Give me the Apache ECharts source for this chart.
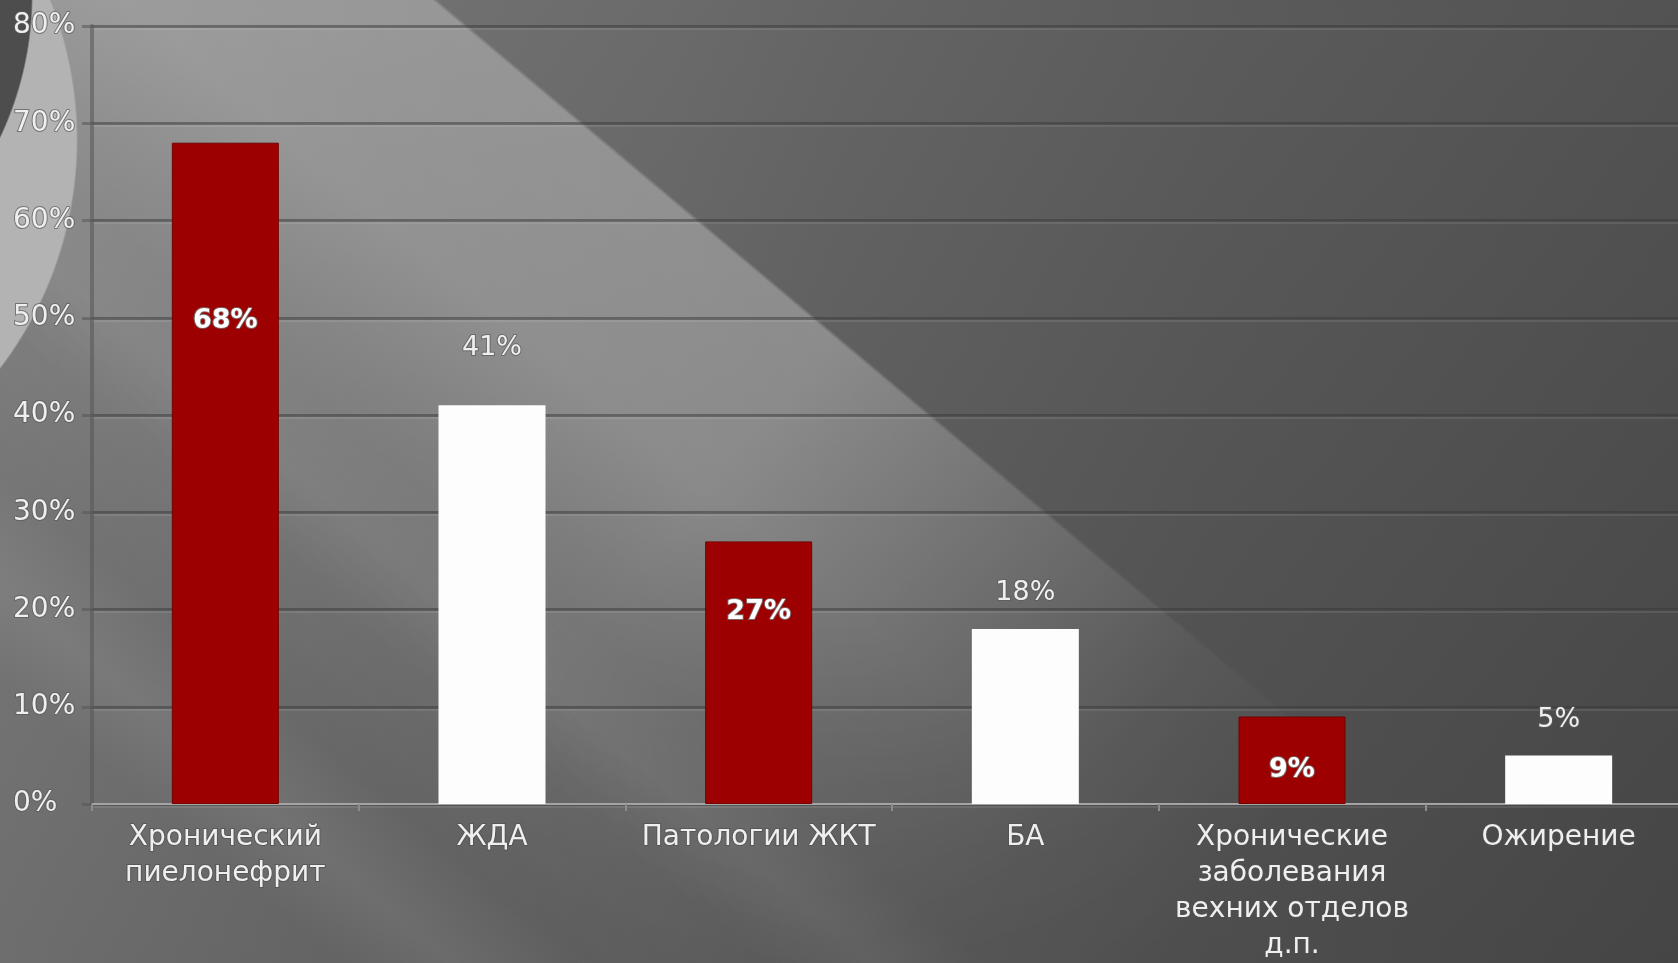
<!DOCTYPE html>
<html>
<head>
<meta charset="utf-8">
<script src="https://cdn.jsdelivr.net/npm/echarts@6/dist/echarts.min.js"></script>
<style>
  html, body { margin: 0; padding: 0; overflow: hidden; }
  #wrap { position: relative; width: 1678px; height: 963px; overflow: hidden; }
  #bg {
    position: absolute; left: 0; top: 0; width: 1678px; height: 963px;
    background:
      linear-gradient(40deg,
        rgba(255,255,255,0) 12%, rgba(255,255,255,0.07) 16%, rgba(255,255,255,0) 21%,
        rgba(255,255,255,0) 27%, rgba(255,255,255,0.05) 31%, rgba(255,255,255,0) 35%),
      linear-gradient(to bottom, rgba(255,255,255,0.03), rgba(0,0,0,0.10)),
      linear-gradient(to right, #7a7a7a 0%, #6c6c6c 25%, #666666 40%, #606060 50%, #565656 72%, #4d4d4d 100%);
  }
  #glow {
    position: absolute; left: 0; top: 0; width: 1678px; height: 963px;
    background: linear-gradient(40deg,
      rgba(255,255,255,0) 20%, rgba(255,255,255,0.05) 28%, rgba(255,255,255,0.16) 38%,
      rgba(255,255,255,0.26) 45%, rgba(255,255,255,0.28) 55.9%, rgba(255,255,255,0) 56.1%);
    -webkit-mask-image: linear-gradient(130deg, #000 0%, #000 45%, rgba(0,0,0,0.55) 58%, rgba(0,0,0,0.15) 70%, rgba(0,0,0,0) 80%);
    mask-image: linear-gradient(130deg, #000 0%, #000 45%, rgba(0,0,0,0.55) 58%, rgba(0,0,0,0.15) 70%, rgba(0,0,0,0) 80%);
  }
  #deco {
    position: absolute; left: 0; top: 0; width: 1678px; height: 963px;
    background:
      radial-gradient(circle 333px at -300px -5px, #4d4d4d 99.5%, rgba(77,77,77,0) 100%),
      radial-gradient(circle 378px at -300px 140px, #b3b3b3 99.5%, rgba(179,179,179,0) 100%);
  }
  #chart { position: absolute; left: 0; top: 0; width: 1678px; height: 963px; }
</style>
</head>
<body>
<div id="wrap">
  <div id="bg"></div>
  <div id="glow"></div>
  <div id="deco"></div>
  <div id="chart"></div>
</div>
<script>
// ---- data ----
const categories = [
  'Хронический\nпиелонефрит',
  'ЖДА',
  'Патологии ЖКТ',
  'БА',
  'Хронические\nзаболевания\nвехних отделов\nд.п.',
  'Ожирение'
];
const values = [68, 41, 27, 18, 9, 5];
const yTicks = [0, 10, 20, 30, 40, 50, 60, 70, 80];

// ---- styles ----
const RED = '#9c0000';
const WHITE = '#fdfdfd';
const FONT = 'DejaVu Sans';

const seriesData = values.map((v, i) => {
  const isRed = i % 2 === 0;
  if (isRed) {
    return {
      value: v,
      itemStyle: { color: RED, borderColor: '#760000', borderWidth: 1 },
      label: {
        show: true,
        position: v > 20 ? ['50%', '27%'] : ['50%', '61%'],
        align: 'center',
        verticalAlign: 'middle',
        formatter: '{c}%',
        color: '#ffffff',
        fontFamily: FONT,
        fontWeight: 'bold',
        fontSize: 27,
        textBorderColor: 'rgba(120,110,110,0.9)',
        textBorderWidth: 2
      }
    };
  }
  return {
    value: v,
    itemStyle: { color: WHITE },
    label: {
      show: true,
      position: 'top',
      distance: v > 30 ? 44 : 22,
      formatter: '{c}%',
      color: '#efefef',
      fontFamily: FONT,
      fontSize: 27,
      textBorderColor: 'rgba(90,90,90,0.7)',
      textBorderWidth: 2
    }
  };
});

const chart = echarts.init(document.getElementById('chart'), null, { renderer: 'canvas' });
chart.setOption({
  backgroundColor: 'transparent',
  animation: false,
  grid: { left: 92, top: 26, width: 1600, height: 778, outerBoundsMode: 'none', containLabel: false },
  xAxis: {
    type: 'category',
    data: categories,
    boundaryGap: true,
    axisLine: { show: true, lineStyle: { color: '#a4a4a4', width: 2 } },
    axisTick: { show: true, length: 7, lineStyle: { color: '#8c8c8c', width: 2 } },
    axisLabel: {
      interval: 0,
      margin: 16,
      color: '#efefef',
      fontFamily: FONT,
      fontSize: 28,
      lineHeight: 36,
      textBorderColor: 'rgba(80,80,80,0.7)',
      textBorderWidth: 2
    }
  },
  yAxis: {
    type: 'value',
    min: yTicks[0],
    max: yTicks[yTicks.length - 1],
    interval: yTicks[1] - yTicks[0],
    axisLine: { show: true, lineStyle: { color: 'rgba(85,85,85,0.55)', width: 4 } },
    axisTick: { show: true, length: 10, lineStyle: { color: 'rgba(85,85,85,0.55)', width: 3 } },
    axisLabel: {
      margin: 79,
      align: 'left',
      formatter: '{value}%',
      color: '#efefef',
      fontFamily: FONT,
      fontSize: 28,
      textBorderColor: 'rgba(90,90,90,0.7)',
      textBorderWidth: 2
    },
    splitLine: {
      show: true,
      lineStyle: {
        color: 'rgba(55,55,55,0.5)', width: 3,
        shadowColor: 'rgba(255,255,255,0.18)', shadowOffsetY: 2, shadowBlur: 0
      }
    }
  },
  series: [{
    type: 'bar',
    data: seriesData,
    barWidth: 107
  }]
});
</script>
</body>
</html>
